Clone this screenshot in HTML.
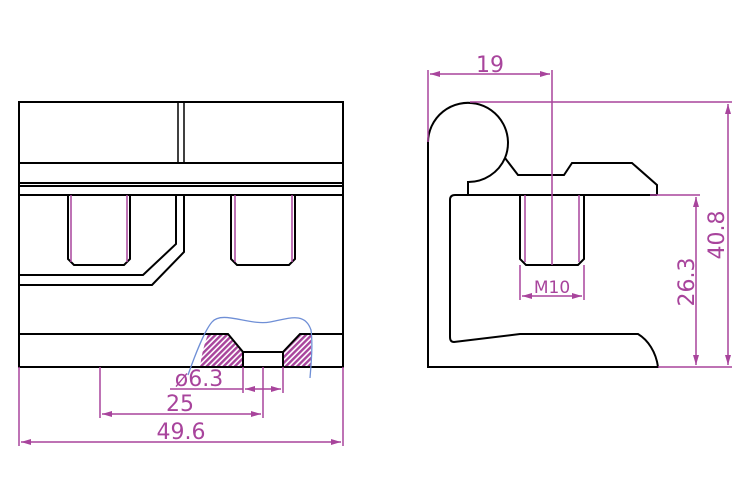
<!DOCTYPE html>
<html><head><meta charset="utf-8"><style>html,body{margin:0;padding:0;background:#fff}svg{display:block}</style></head>
<body>
<svg width="750" height="500" viewBox="0 0 750 500" xmlns="http://www.w3.org/2000/svg">
<defs>
<pattern id="h" patternUnits="userSpaceOnUse" width="4" height="4" patternTransform="rotate(45)">
<rect width="4" height="4" fill="#fff"/><rect width="2.4" height="4" fill="#a8449c"/>
</pattern>
<marker id="a" viewBox="0 0 10 6" refX="10" refY="3" markerWidth="10" markerHeight="6" orient="auto-start-reverse" markerUnits="userSpaceOnUse"><path d="M0,0 L10,3 L0,6 Z" fill="#a8449c"/></marker>
</defs>
<path d="M208,334 L228,334 L243,352 L243,367 L200,367 Q202,350 208,334 Z" fill="url(#h)"/>
<path d="M300,334 L311,334 L311,367 L283,367 L283,352 Z" fill="url(#h)"/>
<g fill="none" stroke="#000" stroke-width="2">
<rect x="19" y="102" width="324" height="265"/>
<line x1="19" y1="163" x2="343" y2="163"/>
<line x1="19" y1="183" x2="343" y2="183"/>
<line x1="19" y1="186" x2="343" y2="186"/>
<line x1="19" y1="195" x2="343" y2="195"/>
<line x1="178" y1="102" x2="178" y2="163" stroke-width="1.5"/>
<line x1="184" y1="102" x2="184" y2="163" stroke-width="1.5"/>
<path d="M68,195 V259 L74,265 H124 L130,259 V195"/>
<path d="M231,195 V259 L237,265 H289 L295,259 V195"/>
<path d="M19,275 H143 L176,244 V195"/>
<path d="M19,285 H152 L184,252 V195"/>
<line x1="19" y1="334" x2="208" y2="334"/>
<line x1="311" y1="334" x2="343" y2="334"/>
<path d="M208,334 H228 L243,352 V367"/>
<path d="M243,352 H283"/>
<path d="M311,334 H300 L283,352 V367"/>
</g>
<g stroke="#a8449c" stroke-width="1.5" fill="none">
<line x1="71" y1="195" x2="71" y2="262"/><line x1="127" y1="195" x2="127" y2="262"/>
<line x1="235" y1="195" x2="235" y2="262"/><line x1="292" y1="195" x2="292" y2="262"/>
<line x1="19" y1="367" x2="19" y2="446"/><line x1="343" y1="367" x2="343" y2="446"/>
<line x1="21" y1="442" x2="341" y2="442" marker-start="url(#a)" marker-end="url(#a)"/>
<line x1="100" y1="367" x2="100" y2="418"/><line x1="263" y1="367" x2="263" y2="418"/>
<line x1="102" y1="414" x2="261" y2="414" marker-start="url(#a)" marker-end="url(#a)"/>
<line x1="243" y1="367" x2="243" y2="393"/><line x1="283" y1="367" x2="283" y2="393"/>
<line x1="170" y1="389" x2="243" y2="389"/>
<line x1="245" y1="389" x2="263" y2="389" marker-start="url(#a)"/>
<line x1="263" y1="389" x2="281" y2="389" marker-end="url(#a)"/>
</g>
<path d="M188,375 C195,355 205,330 212,322 C222,310 250,326 270,322 C290,318 305,312 311,330 C313,345 311,365 310,378" fill="none" stroke="#6f8fd6" stroke-width="1.3"/>
<g font-family="DejaVu Sans, sans-serif" font-size="22" fill="#a8449c" text-anchor="middle">
<text x="181" y="439">49.6</text>
<text x="180" y="411">25</text>
<text x="199" y="386">ø6.3</text>
<text x="490" y="72">19</text>
<text x="552" y="293" font-size="17">M10</text>
<text transform="translate(694,282) rotate(-90)">26.3</text>
<text transform="translate(724,235) rotate(-90)">40.8</text>
</g>
<g fill="none" stroke="#000" stroke-width="2">
<path d="M428,142 A40,40 0 1 1 505,158 L518,175 H564 L572,163 H632 L657,185 V195"/>
<path d="M468,195 V182 A40,40 0 0 0 505,158"/>
<path d="M428,142 V367 H658 C656,352 648,340 638,334 H520 L454,342 Q450,342 450,337 V200 Q450,195 455,195 H657"/>
<path d="M520,195 V259 L526,265 H578 L584,259 V195"/>
</g>
<g stroke="#a8449c" stroke-width="1.5" fill="none">
<line x1="525" y1="195" x2="525" y2="262"/><line x1="579" y1="195" x2="579" y2="262"/>
<line x1="428" y1="70" x2="428" y2="142"/><line x1="552" y1="70" x2="552" y2="265"/>
<line x1="430" y1="74" x2="550" y2="74" marker-start="url(#a)" marker-end="url(#a)"/>
<line x1="470" y1="102" x2="732" y2="102"/><line x1="658" y1="367" x2="732" y2="367"/>
<line x1="728" y1="104" x2="728" y2="365" marker-start="url(#a)" marker-end="url(#a)"/>
<line x1="650" y1="195" x2="700" y2="195"/>
<line x1="696" y1="197" x2="696" y2="365" marker-start="url(#a)" marker-end="url(#a)"/>
<line x1="520" y1="265" x2="520" y2="300"/><line x1="584" y1="265" x2="584" y2="300"/>
<line x1="522" y1="296" x2="582" y2="296" marker-start="url(#a)" marker-end="url(#a)"/>
</g>
</svg>
</body></html>
